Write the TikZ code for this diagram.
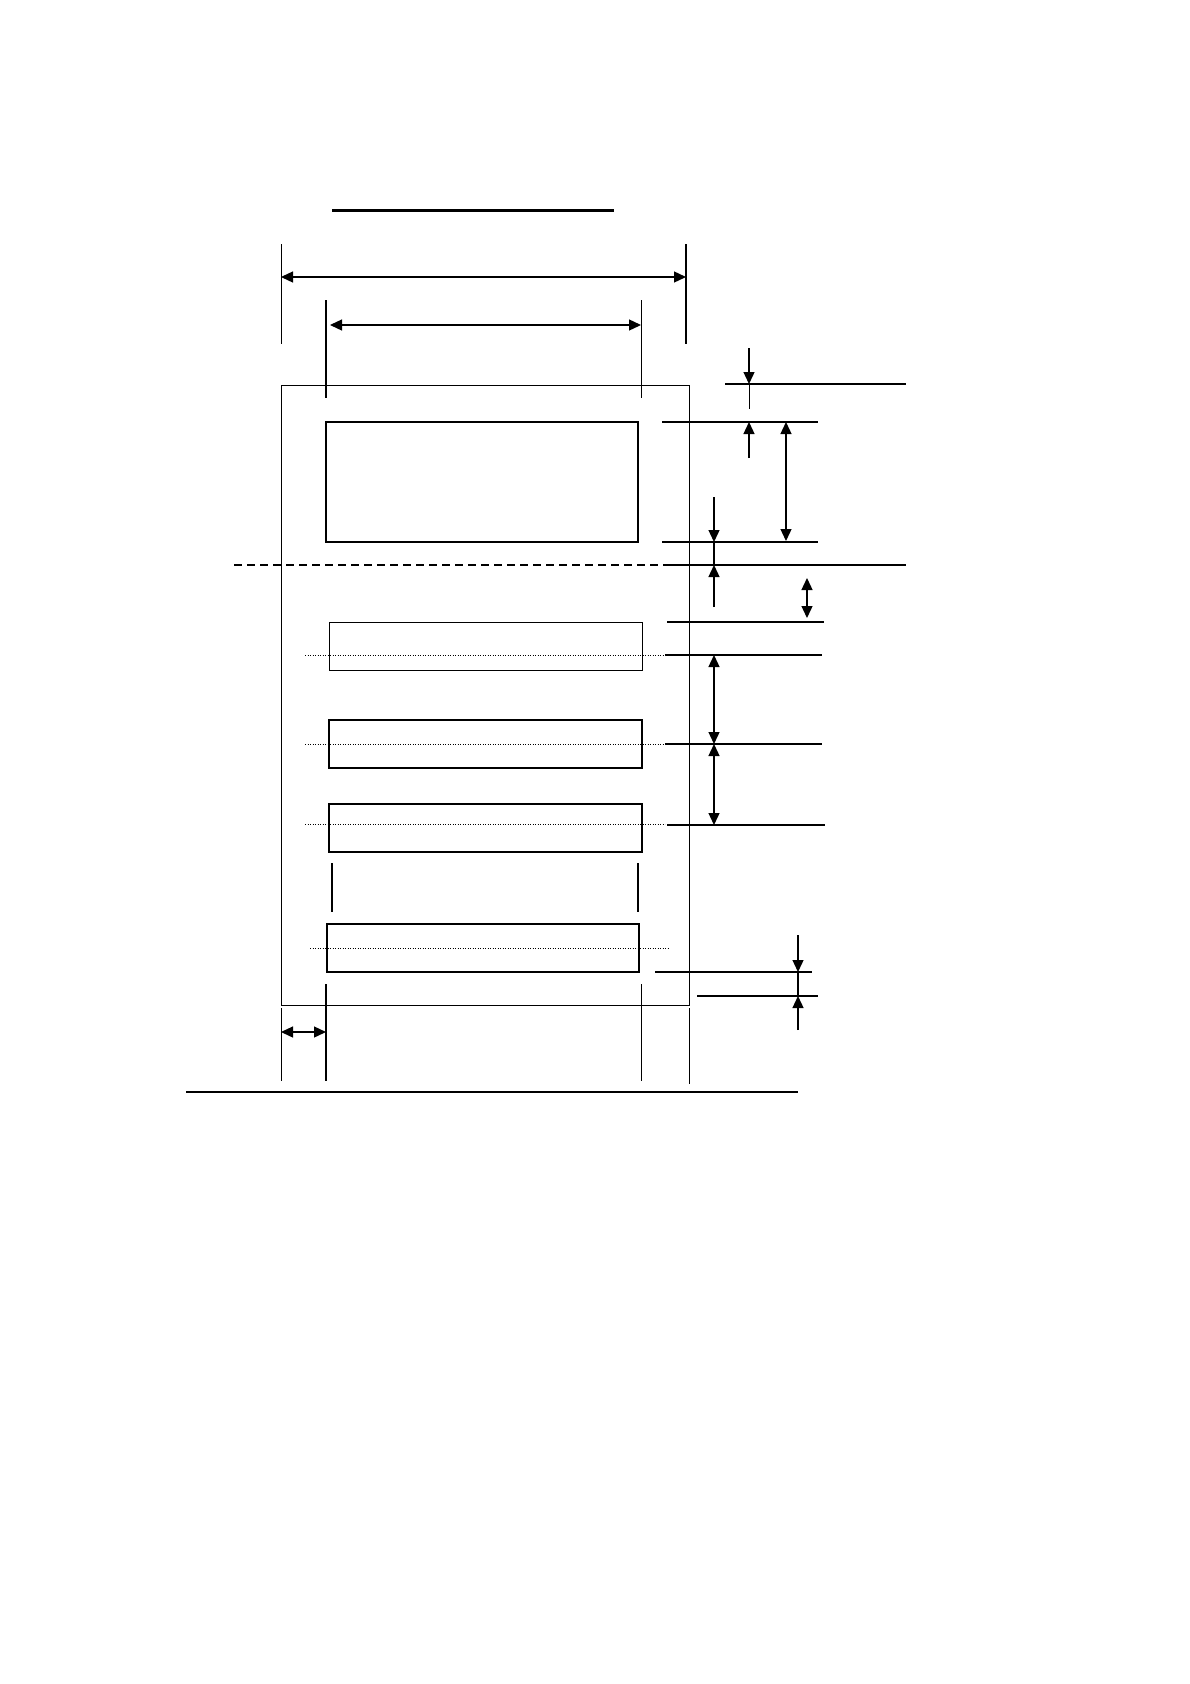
\documentclass[tikz,border=0pt]{standalone}
\usetikzlibrary{arrows.meta}
\begin{document}
\begin{tikzpicture}[x=1pt,y=-1pt,line cap=butt,
  tip/.tip={Triangle[length=12pt,width=11pt]},
  onearrow/.style={-tip,line width=1.3pt},
  twoarrow/.style={tip-tip,line width=1.3pt},
  hair/.style={line width=1pt},
  medium/.style={line width=1.4pt},
  heavy/.style={line width=2pt},
  dotline/.style={line width=0.8pt,dash pattern=on 1.2pt off 1.3pt},
  dashline/.style={line width=1.2pt,dash pattern=on 8pt off 5pt}]
\useasboundingbox (0,0) rectangle (1190,1684);
\fill[white] (0,0) rectangle (1190,1684);
% title line
\draw[line width=3pt] (332,210) -- (614,210);
% overall width
\draw[hair] (281,244) -- (281,344);
\draw[heavy] (686,244) -- (686,344);
\draw[twoarrow] (281,277) -- (686,277);
% inner width
\draw[heavy] (326,300) -- (326,398);
\draw[hair] (641,300) -- (641,398);
\draw[twoarrow] (330,325) -- (641,325);
% outer sheet
\draw[hair] (281,385) rectangle (689,1005);
% big label box
\draw[line width=2.5pt] (326,422) rectangle (638,542);
% fold line
\draw[dashline] (234,565) -- (665,565);
\draw[medium] (665,565) -- (906,565);
% small boxes
\draw[hair] (329,622) rectangle (642,670);
\draw[medium] (329,720) rectangle (642,768);
\draw[line width=1.7pt] (329,804) rectangle (642,852);
\draw[heavy] (327,924) rectangle (639,972);
% centre lines
\draw[dotline] (305,655) -- (665,655);
\draw[dotline] (305,744) -- (665,744);
\draw[dotline] (305,824) -- (665,824);
\draw[dotline] (310,948) -- (669,948);
% extension lines on the right
\draw[medium] (725,384) -- (906,384);
\draw[medium] (662,422) -- (818,422);
\draw[medium] (662,542) -- (818,542);
\draw[medium] (667,622) -- (824,622);
\draw[medium] (665,655) -- (822,655);
\draw[medium] (665,744) -- (822,744);
\draw[medium] (667,825) -- (825,825);
\draw[medium] (655,972) -- (812,972);
\draw[medium] (697,996) -- (818,996);
% break marks between boxes
\draw[medium] (332,863) -- (332,912);
\draw[heavy] (638,863) -- (638,912);
% lower extension lines
\draw[heavy] (326,984) -- (326,1081);
\draw[hair] (641,984) -- (641,1081);
\draw[hair] (281,1008) -- (281,1081);
\draw[hair] (689,1008) -- (689,1084);
\draw[twoarrow] (281,1032) -- (326,1032);
% bottom line
\draw[heavy] (186,1092) -- (798,1092);
% vertical dimension arrows
\draw[onearrow] (749,348) -- (749,384);
\draw[hair] (749,384) -- (749,409);
\draw[onearrow] (749,458) -- (749,422);
\draw[twoarrow] (786,422) -- (786,541);
\draw[onearrow] (714,497) -- (714,542);
\draw[heavy] (714,542) -- (714,565);
\draw[onearrow] (714,607) -- (714,565);
\draw[twoarrow] (807,578) -- (807,618);
\draw[twoarrow] (714,655) -- (714,744);
\draw[twoarrow] (714,744) -- (714,825);
\draw[onearrow] (798,935) -- (798,972);
\draw[heavy] (798,972) -- (798,996);
\draw[onearrow] (798,1030) -- (798,996);
\end{tikzpicture}
\end{document}
